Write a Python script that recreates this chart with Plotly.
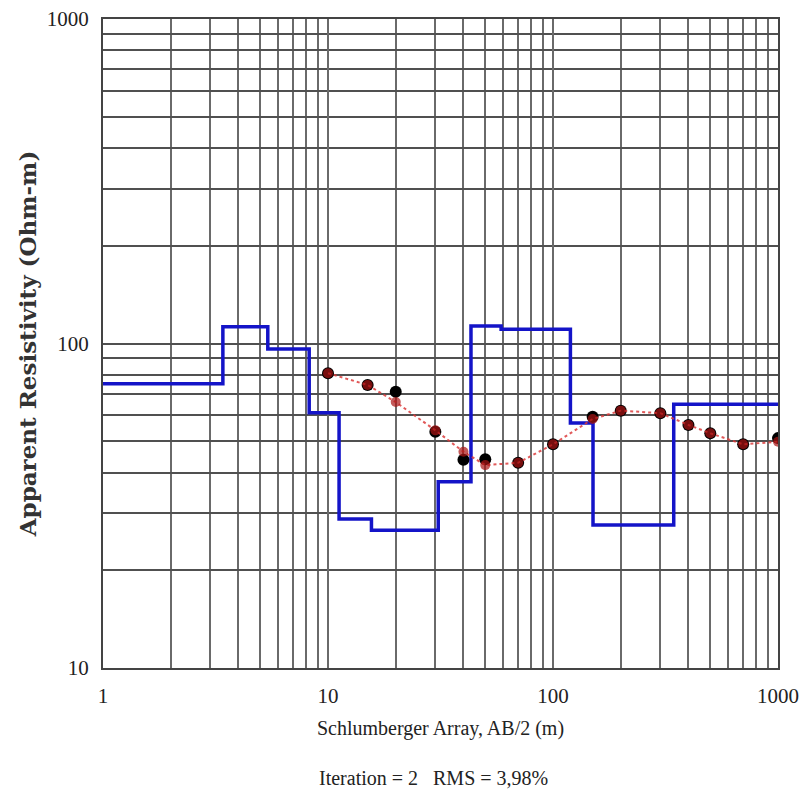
import plotly.graph_objects as go

# Sounding data (Schlumberger AB/2 in m, apparent resistivity in Ohm-m)
ab2 = [10, 15, 20, 30, 40, 50, 70, 100, 150, 200, 300, 400, 500, 700, 1000]
rho_observed = [81, 74.5, 71, 53.5, 43.8, 44, 42.9, 48.9, 59.5, 62.1, 61, 56.1, 52.9, 48.9, 51.1]
rho_calculated = [81, 74.5, 66, 54, 46.4, 42.2, 42.9, 48.9, 58.5, 62.1, 61, 56.1, 52.9, 48.9, 49.8]

# Layered model (step curve): layer start depth and resistivity
model_depth = [1, 3.41, 5.40, 8.25, 11.2, 15.6, 30.9, 43.2, 58.8, 119.5, 150.6, 344, 1000]
model_rho = [75.1, 112.7, 96.2, 61.2, 28.8, 26.6, 37.5, 113.3, 110.7, 56.9, 27.6, 65.0, 65.0]

tick_values = [1, 10, 100, 1000]
x_tick_labels = ["1", "10", "100", "1000"]
y_tick_values = [10, 100, 1000]
y_tick_labels = ["10", "100", "1000"]

minor_grid = [k * 10 ** d for d in range(3) for k in range(2, 10)]

fig = go.Figure()

fig.add_trace(go.Scatter(
    x=model_depth, y=model_rho, mode="lines", line_shape="hv",
    line=dict(color="#1414c8", width=3.5), showlegend=False))

fig.add_trace(go.Scatter(
    x=ab2, y=rho_observed, mode="markers",
    marker=dict(color="#000000", size=12, symbol="circle"), showlegend=False))

fig.add_trace(go.Scatter(
    x=ab2, y=rho_calculated, mode="lines+markers",
    line=dict(color="rgba(220,60,60,0.85)", width=2, dash="dot"),
    marker=dict(color="rgba(170,20,20,0.7)", size=10, symbol="circle"),
    showlegend=False))

tick_font = dict(family="Liberation Serif", size=21, color="#222222")

fig.update_layout(
    width=803, height=799,
    margin=dict(l=103, r=25, t=19, b=131, autoexpand=False),
    paper_bgcolor="white", plot_bgcolor="white",
    xaxis=dict(
        type="log", range=[0, 3], automargin=False,
        tickvals=tick_values, ticktext=x_tick_labels, ticks="",
        tickfont=tick_font, ticklabelstandoff=8,
        showgrid=True, gridcolor="#6a6a6a", gridwidth=1.5,
        minor=dict(tickvals=minor_grid, showgrid=True, gridcolor="#6a6a6a", gridwidth=1.5, ticks=""),
        showline=True, mirror=True, linecolor="#444444", linewidth=2,
        zeroline=False,
        title=dict(text="Schlumberger Array, AB/2 (m)",
                   font=dict(family="Liberation Serif", size=20, color="#222222"),
                   standoff=14),
    ),
    yaxis=dict(
        type="log", range=[1, 3], automargin=False,
        tickvals=y_tick_values, ticktext=y_tick_labels, ticks="",
        tickfont=tick_font, ticklabelstandoff=8,
        showgrid=True, gridcolor="#505050", gridwidth=2,
        minor=dict(tickvals=minor_grid, showgrid=True, gridcolor="#505050", gridwidth=2, ticks=""),
        showline=True, mirror=True, linecolor="#444444", linewidth=2,
        zeroline=False,
        title=dict(text="Apparent Resistivity (Ohm-m)",
                   font=dict(family="DejaVu Serif", size=23, color="#333333", weight="bold"),
                   standoff=4),
    ),
    annotations=[dict(
        text="Iteration = 2   RMS = 3,98%", xref="paper", yref="paper",
        x=0.49, y=-0.17, xanchor="center", yanchor="middle", showarrow=False,
        font=dict(family="Liberation Serif", size=20, color="#222222"))],
)

fig.write_html("out.html")
